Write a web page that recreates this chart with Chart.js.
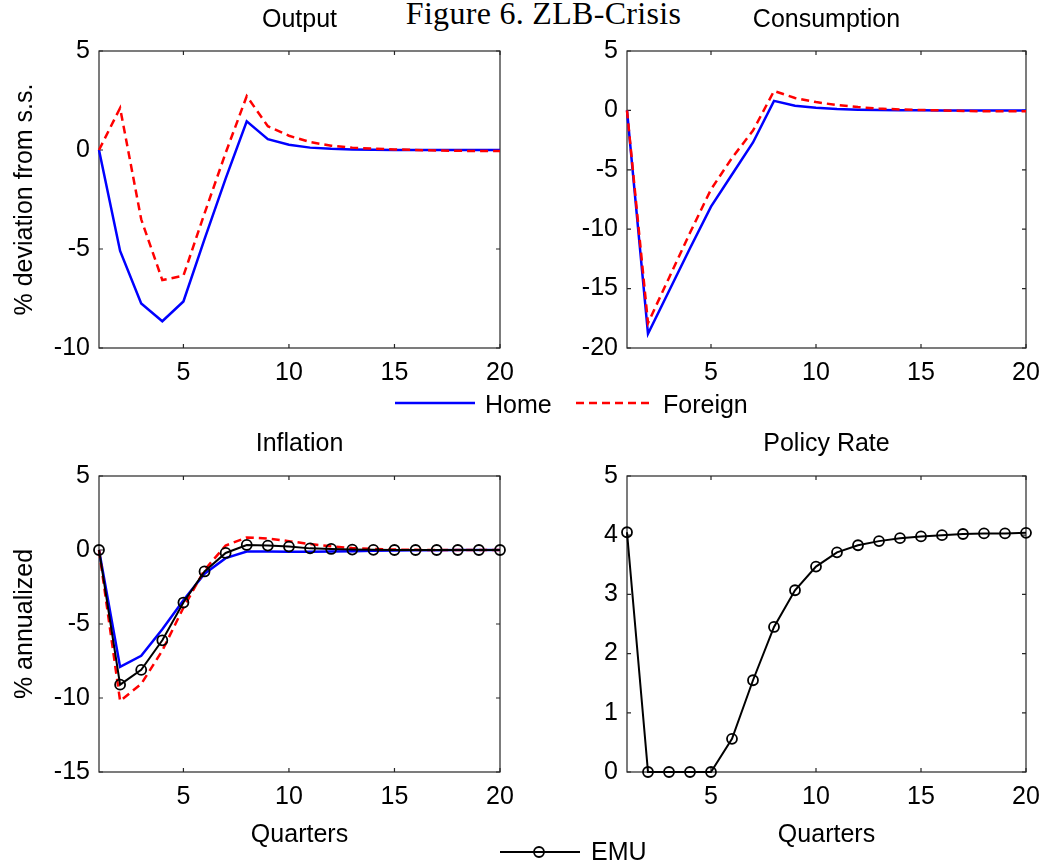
<!DOCTYPE html>
<html>
<head>
<meta charset="utf-8">
<title>Figure 6. ZLB-Crisis</title>
<script src="https://cdn.jsdelivr.net/npm/chart.js@4.4.1/dist/chart.umd.min.js"></script>
<style>
    body {
        margin: 0;
        width: 1045px;
        height: 865px;
        position: relative;
        overflow: hidden;
        background: #fff;
        font-family: "Liberation Sans", Arial, sans-serif;
        color: #000;
    }
    canvas { position: absolute; }
    .fig-title {
        position: absolute;
        left: 0;
        top: -3px;
        width: 1087px;
        text-align: center;
        font-family: "Liberation Serif", "DejaVu Serif", serif;
        font-size: 32px;
        line-height: 32px;
        letter-spacing: 0.3px;
        white-space: nowrap;
    }
    .legend-text {
        position: absolute;
        font-size: 25px;
        line-height: 30px;
        white-space: nowrap;
    }
    svg.sample { position: absolute; overflow: visible; }
</style>
</head>
<body>
<div class="fig-title">Figure 6. ZLB-Crisis</div>

<canvas id="chart-output" width="520" height="390" style="left:0;top:0"></canvas>
<canvas id="chart-consumption" width="525" height="390" style="left:520px;top:0"></canvas>
<canvas id="chart-inflation" width="520" height="430" style="left:0;top:420px"></canvas>
<canvas id="chart-policy" width="525" height="430" style="left:520px;top:420px"></canvas>

<svg class="sample" width="80" height="6" style="left:395px;top:400px">
    <line x1="0" y1="3" x2="80" y2="3" stroke="#0000ff" stroke-width="2.5"></line>
</svg>
<div class="legend-text" style="left:485px;top:389px">Home</div>
<svg class="sample" width="78" height="6" style="left:576px;top:400px">
    <line x1="0" y1="3" x2="78" y2="3" stroke="#ff0000" stroke-width="2.5" stroke-dasharray="8 5"></line>
</svg>
<div class="legend-text" style="left:663px;top:389px">Foreign</div>

<svg class="sample" width="80" height="14" style="left:500px;top:845px">
    <line x1="0" y1="7" x2="80" y2="7" stroke="#000" stroke-width="2"></line>
    <circle cx="39" cy="7" r="5" fill="none" stroke="#000" stroke-width="1.8"></circle>
</svg>
<div class="legend-text" style="left:591px;top:836px">EMU</div>

<script>
// quarters after the shock
var quarters = [1, 2, 3, 4, 5, 6, 7, 8, 9, 10, 11, 12, 13, 14, 15, 16, 17, 18, 19, 20];
var xTickValues = [5, 10, 15, 20];

// Output, % deviation from s.s.
var outputHome = [0, -5.1, -7.75, -8.65, -7.65, -4.5, -1.45, 1.45, 0.55, 0.27, 0.12, 0.06, 0.03, 0.01, 0, 0, 0, 0, 0, 0];
var outputForeign = [0, 2.12, -3.5, -6.57, -6.35, -3.2, -0.15, 2.72, 1.2, 0.72, 0.4, 0.22, 0.12, 0.07, 0.03, 0, -0.02, -0.04, -0.05, -0.05];
var outputTicks = [-10, -5, 0, 5];

// Consumption, % deviation from s.s.
var consHome = [0, -18.8, -15.2, -11.6, -8.1, -5.4, -2.7, 0.8, 0.4, 0.22, 0.12, 0.06, 0.03, 0.02, 0.01, 0, 0, 0, 0, 0];
var consForeign = [0, -17.9, -14.1, -10.3, -6.65, -4.0, -1.7, 1.63, 1.05, 0.7, 0.45, 0.28, 0.15, 0.08, 0.03, 0, -0.05, -0.07, -0.07, -0.07];
var consTicks = [-20, -15, -10, -5, 0, 5];

// Inflation, % annualized
var inflHome = [0, -7.9, -7.15, -5.35, -3.4, -1.6, -0.55, -0.1, -0.1, -0.12, -0.12, -0.1, -0.08, -0.05, -0.03, -0.02, -0.01, 0, 0, 0];
var inflForeign = [0, -10.2, -9.05, -6.8, -3.9, -1.35, 0.3, 0.85, 0.78, 0.6, 0.4, 0.25, 0.13, 0.07, 0.03, 0.01, 0, 0, 0, 0];
var inflEmu = [0, -9.1, -8.1, -6.1, -3.55, -1.45, -0.2, 0.34, 0.3, 0.23, 0.11, 0.07, 0.03, 0.01, 0, 0, 0, 0, 0, 0];
var inflTicks = [-15, -10, -5, 0, 5];

// Policy rate, % annualized
var policyEmu = [4.05, 0, 0, 0, 0, 0.56, 1.55, 2.45, 3.07, 3.47, 3.71, 3.83, 3.9, 3.95, 3.98, 4.0, 4.02, 4.03, 4.03, 4.04];
var policyTicks = [0, 1, 2, 3, 4, 5];

(function () {
    var FONT = '"Liberation Sans", Arial, sans-serif';
    var AXIS_COLOR = '#262626';

    function toPoints(values) {
        return values.map(function (v, i) { return { x: quarters[i], y: v }; });
    }

    function homeSet(values) {
        return {
            label: 'Home', data: toPoints(values), order: 2,
            borderColor: '#0000ff', borderWidth: 2.5, pointRadius: 0, tension: 0, clip: false
        };
    }

    function foreignSet(values) {
        return {
            label: 'Foreign', data: toPoints(values), order: 1,
            borderColor: '#ff0000', borderWidth: 2.5, borderDash: [8, 5], pointRadius: 0, tension: 0, clip: false
        };
    }

    function emuSet(values) {
        return {
            label: 'EMU', data: toPoints(values), order: 0,
            borderColor: '#000', borderWidth: 2, tension: 0, clip: false,
            pointRadius: 5, pointBorderWidth: 1.8, pointBorderColor: '#000',
            pointBackgroundColor: 'rgba(0,0,0,0)'
        };
    }

    // box round the plot plus short inward ticks on all four sides
    var frameTicks = {
        id: 'frameTicks',
        beforeDatasetsDraw: function (chart) {
            var a = chart.chartArea;
            var ctx = chart.ctx;
            var xs = chart.scales.x;
            var ys = chart.scales.y;
            ctx.save();
            ctx.strokeStyle = AXIS_COLOR;
            ctx.lineWidth = 1.2;
            ctx.strokeRect(a.left, a.top, a.right - a.left, a.bottom - a.top);
            ctx.beginPath();
            xs.ticks.forEach(function (t) {
                var px = xs.getPixelForValue(t.value);
                ctx.moveTo(px, a.bottom); ctx.lineTo(px, a.bottom - 4);
                ctx.moveTo(px, a.top); ctx.lineTo(px, a.top + 4);
            });
            ys.ticks.forEach(function (t) {
                var py = ys.getPixelForValue(t.value);
                ctx.moveTo(a.left, py); ctx.lineTo(a.left + 4, py);
                ctx.moveTo(a.right, py); ctx.lineTo(a.right - 4, py);
            });
            ctx.stroke();
            ctx.restore();
        }
    };

    function makePanel(id, cfg) {
        var canvas = document.getElementById(id);
        return new Chart(canvas.getContext('2d'), {
            type: 'line',
            data: { datasets: cfg.datasets },
            options: {
                responsive: false,
                animation: false,
                events: [],
                layout: { padding: { left: 0, right: cfg.padRight, top: 0, bottom: 0 } },
                plugins: {
                    legend: { display: false },
                    tooltip: { enabled: false },
                    title: {
                        display: true,
                        fullSize: false,
                        text: cfg.title,
                        color: '#000',
                        font: { family: FONT, size: 25, weight: 'normal', lineHeight: 1.2 },
                        padding: { top: cfg.titleTop, bottom: cfg.titleBottom }
                    }
                },
                scales: {
                    x: {
                        type: 'linear',
                        min: 1,
                        max: 20,
                        grid: { display: false, drawTicks: false },
                        border: { display: false },
                        ticks: {
                            color: '#000',
                            padding: 10,
                            maxRotation: 0,
                            font: { family: FONT, size: 25 },
                            callback: function (v) { return String(v); }
                        },
                        title: {
                            display: !!cfg.xTitle,
                            text: cfg.xTitle || '',
                            color: '#000',
                            font: { family: FONT, size: 25 },
                            padding: { top: 0, bottom: 0 }
                        },
                        afterBuildTicks: function (scale) {
                            scale.ticks = xTickValues.map(function (v) { return { value: v }; });
                        },
                        afterFit: function (scale) {
                            scale.height = cfg.xHeight;
                            scale.paddingLeft = 0;
                            scale.paddingRight = 0;
                        }
                    },
                    y: {
                        type: 'linear',
                        min: cfg.yTicks[0],
                        max: cfg.yTicks[cfg.yTicks.length - 1],
                        grid: { display: false, drawTicks: false },
                        border: { display: false },
                        ticks: {
                            color: '#000',
                            padding: 9,
                            font: { family: FONT, size: 25 },
                            callback: function (v) { return String(v); }
                        },
                        title: {
                            display: !!cfg.yTitle,
                            text: cfg.yTitle || '',
                            color: '#000',
                            font: { family: FONT, size: 25 },
                            padding: { top: 10, bottom: 0 }
                        },
                        afterBuildTicks: function (scale) {
                            scale.ticks = cfg.yTicks.map(function (v) { return { value: v }; });
                        },
                        afterFit: function (scale) {
                            scale.width = cfg.yWidth;
                            scale.paddingTop = 0;
                            scale.paddingBottom = 0;
                        }
                    }
                }
            },
            plugins: [frameTicks]
        });
    }

    makePanel('chart-output', {
        title: 'Output', titleTop: 5, titleBottom: 16,
        yTitle: '% deviation from s.s.', yTicks: outputTicks,
        yWidth: 99, xHeight: 42, padRight: 20,
        datasets: [homeSet(outputHome), foreignSet(outputForeign)]
    });

    makePanel('chart-consumption', {
        title: 'Consumption', titleTop: 5, titleBottom: 16,
        yTicks: consTicks,
        yWidth: 107, xHeight: 42, padRight: 19,
        datasets: [homeSet(consHome), foreignSet(consForeign)]
    });

    makePanel('chart-inflation', {
        title: 'Inflation', titleTop: 9, titleBottom: 17,
        yTitle: '% annualized', xTitle: 'Quarters', yTicks: inflTicks,
        yWidth: 99, xHeight: 78, padRight: 20,
        datasets: [homeSet(inflHome), foreignSet(inflForeign), emuSet(inflEmu)]
    });

    makePanel('chart-policy', {
        title: 'Policy Rate', titleTop: 9, titleBottom: 17,
        xTitle: 'Quarters', yTicks: policyTicks,
        yWidth: 107, xHeight: 78, padRight: 19,
        datasets: [emuSet(policyEmu)]
    });
})();
</script>
</body>
</html>
